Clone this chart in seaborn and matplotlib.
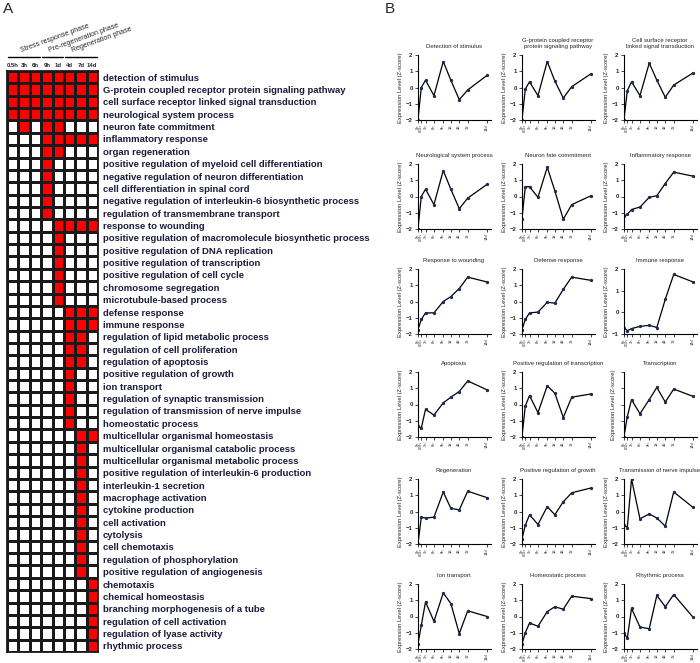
import matplotlib
matplotlib.use("Agg")
import matplotlib.pyplot as plt
import seaborn as sns
import numpy as np
import pandas as pd
from matplotlib.colors import ListedColormap

sns.set_style("white")
plt.rcParams['font.family'] = ['Liberation Sans', 'DejaVu Sans']

# ---- panel A: enriched GO terms per stage ----
stages = ["0.5h", "3h", "6h", "9h", "1d", "4d", "7d", "14d"]

terms = [
    "detection of stimulus",
    "G-protein coupled receptor protein signaling pathway",
    "cell surface receptor linked signal transduction",
    "neurological system process",
    "neuron fate commitment",
    "inflammatory response",
    "organ regeneration",
    "positive regulation of myeloid cell differentiation",
    "negative regulation of neuron differentiation",
    "cell differentiation in spinal cord",
    "negative regulation of interleukin-6 biosynthetic process",
    "regulation of transmembrane transport",
    "response to wounding",
    "positive regulation of macromolecule biosynthetic process",
    "positive regulation of DNA replication",
    "positive regulation of transcription",
    "positive regulation of cell cycle",
    "chromosome segregation",
    "microtubule-based process",
    "defense response",
    "immune response",
    "regulation of lipid metabolic process",
    "regulation of cell proliferation",
    "regulation of apoptosis",
    "positive regulation of growth",
    "ion transport",
    "regulation of synaptic transmission",
    "regulation of transmission of nerve impulse",
    "homeostatic process",
    "multicellular organismal homeostasis",
    "multicellular organismal catabolic process",
    "multicellular organismal metabolic process",
    "positive regulation of interleukin-6 production",
    "interleukin-1 secretion",
    "macrophage activation",
    "cytokine production",
    "cell activation",
    "cytolysis",
    "cell chemotaxis",
    "regulation of phosphorylation",
    "positive regulation of angiogenesis",
    "chemotaxis",
    "chemical homeostasis",
    "branching morphogenesis of a tube",
    "regulation of cell activation",
    "regulation of lyase activity",
    "rhythmic process",
]

enriched = [
    [1, 1, 1, 1, 1, 1, 1, 1],
    [1, 1, 1, 1, 1, 1, 1, 1],
    [1, 1, 1, 1, 1, 1, 1, 1],
    [1, 1, 1, 1, 1, 1, 1, 1],
    [0, 1, 0, 1, 1, 0, 0, 0],
    [0, 0, 0, 1, 1, 1, 1, 1],
    [0, 0, 0, 1, 1, 0, 0, 0],
    [0, 0, 0, 1, 0, 0, 0, 0],
    [0, 0, 0, 1, 0, 0, 0, 0],
    [0, 0, 0, 1, 0, 0, 0, 0],
    [0, 0, 0, 1, 0, 0, 0, 0],
    [0, 0, 0, 1, 0, 0, 0, 0],
    [0, 0, 0, 0, 1, 1, 1, 1],
    [0, 0, 0, 0, 1, 0, 0, 0],
    [0, 0, 0, 0, 1, 0, 0, 0],
    [0, 0, 0, 0, 1, 0, 0, 0],
    [0, 0, 0, 0, 1, 0, 0, 0],
    [0, 0, 0, 0, 1, 0, 0, 0],
    [0, 0, 0, 0, 1, 0, 0, 0],
    [0, 0, 0, 0, 0, 1, 1, 1],
    [0, 0, 0, 0, 0, 1, 1, 1],
    [0, 0, 0, 0, 0, 1, 1, 0],
    [0, 0, 0, 0, 0, 1, 1, 0],
    [0, 0, 0, 0, 0, 1, 1, 0],
    [0, 0, 0, 0, 0, 1, 0, 0],
    [0, 0, 0, 0, 0, 1, 0, 0],
    [0, 0, 0, 0, 0, 1, 0, 0],
    [0, 0, 0, 0, 0, 1, 0, 0],
    [0, 0, 0, 0, 0, 1, 0, 0],
    [0, 0, 0, 0, 0, 0, 1, 1],
    [0, 0, 0, 0, 0, 0, 1, 0],
    [0, 0, 0, 0, 0, 0, 1, 0],
    [0, 0, 0, 0, 0, 0, 1, 0],
    [0, 0, 0, 0, 0, 0, 1, 0],
    [0, 0, 0, 0, 0, 0, 1, 0],
    [0, 0, 0, 0, 0, 0, 1, 0],
    [0, 0, 0, 0, 0, 0, 1, 0],
    [0, 0, 0, 0, 0, 0, 1, 0],
    [0, 0, 0, 0, 0, 0, 1, 0],
    [0, 0, 0, 0, 0, 0, 1, 0],
    [0, 0, 0, 0, 0, 0, 1, 0],
    [0, 0, 0, 0, 0, 0, 0, 1],
    [0, 0, 0, 0, 0, 0, 0, 1],
    [0, 0, 0, 0, 0, 0, 0, 1],
    [0, 0, 0, 0, 0, 0, 0, 1],
    [0, 0, 0, 0, 0, 0, 0, 1],
    [0, 0, 0, 0, 0, 0, 0, 1],
]

phases = ["Stress response phase", "Pre-regeneration phase", "Regeneration phase"]
phase_spans = [(0, 3), (3, 5), (5, 8)]

# ---- panel B: expression profiles (Z-score) ----
time_labels = ["0h", "0.5h", "3h", "6h", "9h", "1d", "4d", "7d", "14d"]
time_pos = [0, 0.4, 0.9, 1.9, 3.0, 3.9, 4.9, 5.9, 8.2]

panel_titles = [
    "Detection of stimulus",
    "G-protein coupled receptor\nprotein signaling pathway",
    "Cell surface receptor\nlinked signal transduction",
    "Neurological system process",
    "Neuron fate commitment",
    "Inflammatory response",
    "Response to wounding",
    "Defense response",
    "Immune response",
    "Apoptosis",
    "Positive regulation of transcription",
    "Transcription",
    "Regeneration",
    "Positive regulation of growth",
    "Transmission of nerve impulse",
    "Ion transport",
    "Homeostatic process",
    "Rhythmic process",
]

panel_values = [
    [-2.0, 0.0, 0.45, -0.5, 1.6, 0.45, -0.75, -0.15, 0.75],
    [-2.0, -0.1, 0.35, -0.5, 1.6, 0.4, -0.65, 0.05, 0.85],
    [-2.0, -0.2, 0.35, -0.5, 1.5, 0.45, -0.6, 0.15, 0.9],
    [-2.0, 0.0, 0.45, -0.5, 1.6, 0.45, -0.75, -0.1, 0.75],
    [-1.4, 0.6, 0.6, -0.05, 1.8, 0.35, -1.4, -0.5, 0.05],
    [-1.2, -1.1, -0.8, -0.65, -0.05, 0.05, 0.8, 1.5, 1.25],
    [-1.75, -1.1, -0.7, -0.7, 0.0, 0.3, 0.8, 1.5, 1.2],
    [-1.75, -1.1, -0.7, -0.65, -0.05, -0.1, 0.75, 1.5, 1.3],
    [-0.7, -0.85, -0.75, -0.65, -0.6, -0.7, 0.6, 1.75, 1.4],
    [-1.3, -1.45, -0.3, -0.65, 0.1, 0.45, 0.8, 1.45, 0.9],
    [-2.0, -0.1, 0.55, -0.5, 1.15, 0.7, -0.8, 0.45, 0.65],
    [-2.0, -0.75, 0.3, -0.57, 0.3, 1.05, 0.15, 0.95, 0.5],
    [-2.0, -0.35, -0.4, -0.35, 1.2, 0.2, 0.1, 1.25, 0.85],
    [-1.7, -0.85, -0.2, -0.8, 0.3, -0.2, 0.6, 1.15, 1.45],
    [-0.8, -1.0, 2.0, -0.45, -0.15, -0.4, -0.9, 1.2, 0.25],
    [-1.7, -0.55, 0.9, -0.3, 1.45, 0.8, -1.05, 0.35, 0.0],
    [-1.7, -1.0, -0.4, -0.6, 0.3, 0.6, 0.45, 1.25, 1.1],
    [-1.0, -1.35, 0.5, -0.65, -0.75, 1.3, 0.6, 1.35, -0.05],
]

W, H = 700, 663
fig = plt.figure(figsize=(7, 6.63), dpi=100)


def px_axes(x0, y0, x1, y1):
    return fig.add_axes([x0 / W, 1 - y1 / H, (x1 - x0) / W, (y1 - y0) / H])


# ---------------- A ----------------
hm = pd.DataFrame(enriched, index=terms, columns=stages)
ax = px_axes(7, 71, 98, 652)
sns.heatmap(hm, cmap=ListedColormap(["white", "#ff0000"]), cbar=False,
            linewidths=0.9, linecolor="#1a1a1a", ax=ax)
ax.yaxis.tick_right()
ax.set_yticks(np.arange(len(terms)) + 0.5)
ax.set_yticklabels(terms, rotation=0, fontsize=6.8, fontweight="bold", color="#1c1c3c")
ax.tick_params(axis="y", length=0, pad=3.5)
ax.xaxis.tick_top()
ax.set_xticks(np.arange(len(stages)) + 0.5)
ax.set_xticklabels(stages, rotation=0, fontsize=4.3, fontweight="bold")
ax.tick_params(axis="x", length=0, pad=2.5)
ax.set_xlabel("")
ax.set_ylabel("")
for s in ax.spines.values():
    s.set_visible(True)
    s.set_linewidth(1.3)
    s.set_color("#1a1a1a")

for name, (c0, c1) in zip(phases, phase_spans):
    ax.plot([c0 + 0.1, c1 - 0.1], [-1.15, -1.15], color="black", lw=1.0, clip_on=False)
    ax.text(c0 + 1.3 if c0 == 0 else c0 + 0.8, -1.35, name, rotation=20,
            rotation_mode="anchor", ha="left", va="bottom", fontsize=5)

fig.text(3 / W, 1 - 9 / H, "A", fontsize=11, va="center", ha="left")
fig.text(385 / W, 1 - 9 / H, "B", fontsize=11, va="center", ha="left")

# ---------------- B ----------------
col_left = [417.5, 521.5, 623.5]
row_top = [55, 164, 269, 372, 479, 584]
ax_w, ax_h = 73, 65

for i, (title, vals) in enumerate(zip(panel_titles, panel_values)):
    r, c = divmod(i, 3)
    x0, y0 = col_left[c], row_top[r]
    a = px_axes(x0, y0, x0 + ax_w, y0 + ax_h)
    sns.lineplot(x=time_pos, y=vals, ax=a, color="black", lw=0.9,
                 marker="o", markersize=1.6, markerfacecolor="#1a2a5a",
                 markeredgecolor="#1a2a5a")
    a.set_xlim(-0.05, 8.6)
    if title == "Immune response":
        a.set_ylim(-1, 2)
        a.set_yticks([-1, 0, 1, 2])
    else:
        a.set_ylim(-2, 2)
        a.set_yticks([-2, -1, 0, 1, 2])
    if title == "Transcription":
        a.set_yticklabels([])
    a.set_xticks(time_pos)
    a.set_xticklabels(time_labels, rotation=90, fontsize=2.9)
    for lab in a.get_yticklabels():
        lab.set_fontsize(4.3)
        lab.set_fontweight("bold")
    a.tick_params(axis="both", length=2, width=0.6, pad=1.5, direction="out",
                  bottom=True, left=True)
    a.set_ylabel("Expression Level (Z-score)", fontsize=4.2, labelpad=2)
    a.set_title(title, fontsize=4.3, pad=5)
    sns.despine(ax=a)
    for s in ("left", "bottom"):
        a.spines[s].set_linewidth(0.8)
        a.spines[s].set_color("black")

fig.savefig("out.png", dpi=100)
